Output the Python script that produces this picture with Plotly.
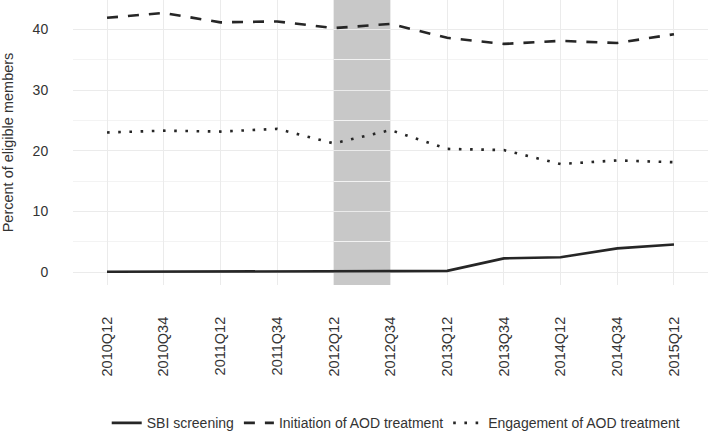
import plotly.graph_objects as go

quarters = ["2010Q12", "2010Q34", "2011Q12", "2011Q34", "2012Q12", "2012Q34",
            "2013Q12", "2013Q34", "2014Q12", "2014Q34", "2015Q12"]
sbi = [0.05, 0.05, 0.05, 0.05, 0.05, 0.15, 0.2, 2.25, 2.45, 3.9, 4.55]
initiation = [41.9, 42.7, 41.15, 41.3, 40.2, 40.9, 38.6, 37.6, 38.1, 37.75, 39.2]
engagement = [23.0, 23.3, 23.15, 23.6, 21.2, 23.4, 20.3, 20.1, 17.8, 18.4, 18.1]
shade_start, shade_end = "2012Q12", "2012Q34"

line_color = "#262626"
fig = go.Figure()
fig.add_trace(go.Scatter(x=quarters, y=sbi, mode="lines", name="SBI screening",
                         line=dict(color=line_color, width=2.6)))
fig.add_trace(go.Scatter(x=quarters, y=initiation, mode="lines", name="Initiation of AOD treatment",
                         line=dict(color=line_color, width=2.6, dash="11px,10px")))
fig.add_trace(go.Scatter(x=quarters, y=engagement, mode="lines", name="Engagement of AOD treatment",
                         line=dict(color=line_color, width=2.6, dash="2.6px,8.6px")))

fig.add_shape(type="rect", xref="x", yref="paper", x0=shade_start, x1=shade_end, y0=0, y1=1,
              fillcolor="#c8c8c8", line=dict(width=0), layer="between")

font_family = "Liberation Sans, Arial, sans-serif"
txt = "#333333"
fig.update_layout(
    width=709, height=431,
    margin=dict(l=73, r=1, t=0, b=146, autoexpand=False),
    plot_bgcolor="white", paper_bgcolor="white",
    font=dict(family=font_family, size=14, color=txt),
    showlegend=True,
    legend=dict(orientation="h", x=0.509, xanchor="center", yref="container", y=0.055, yanchor="top",
                font=dict(size=14, color=txt), traceorder="normal"),
    xaxis=dict(type="category", range=[-0.6, 10.6], tickangle=-90, automargin=False,
               showgrid=True, gridcolor="#ebebeb", gridwidth=1,
               ticks="outside", ticklen=25, tickcolor="rgba(0,0,0,0)",
               zeroline=False, showline=False,
               tickfont=dict(size=14.5, color=txt)),
    yaxis=dict(range=[-2.135, 44.835], tickvals=[0, 10, 20, 30, 40], automargin=False,
               showgrid=True, gridcolor="#ebebeb", gridwidth=1,
               minor=dict(tickvals=[5, 15, 25, 35], showgrid=True, gridcolor="#f3f3f3", gridwidth=1),
               ticks="outside", ticklen=21, tickcolor="rgba(0,0,0,0)",
               zeroline=False, showline=False,
               title=dict(text="Percent of eligible members", standoff=16,
                          font=dict(size=14.5, color=txt)),
               tickfont=dict(size=14, color=txt)),
)

fig.write_html("out.html", config={"displayModeBar": False},
               post_script="document.body.style.margin='0';document.body.style.overflow='hidden';")
